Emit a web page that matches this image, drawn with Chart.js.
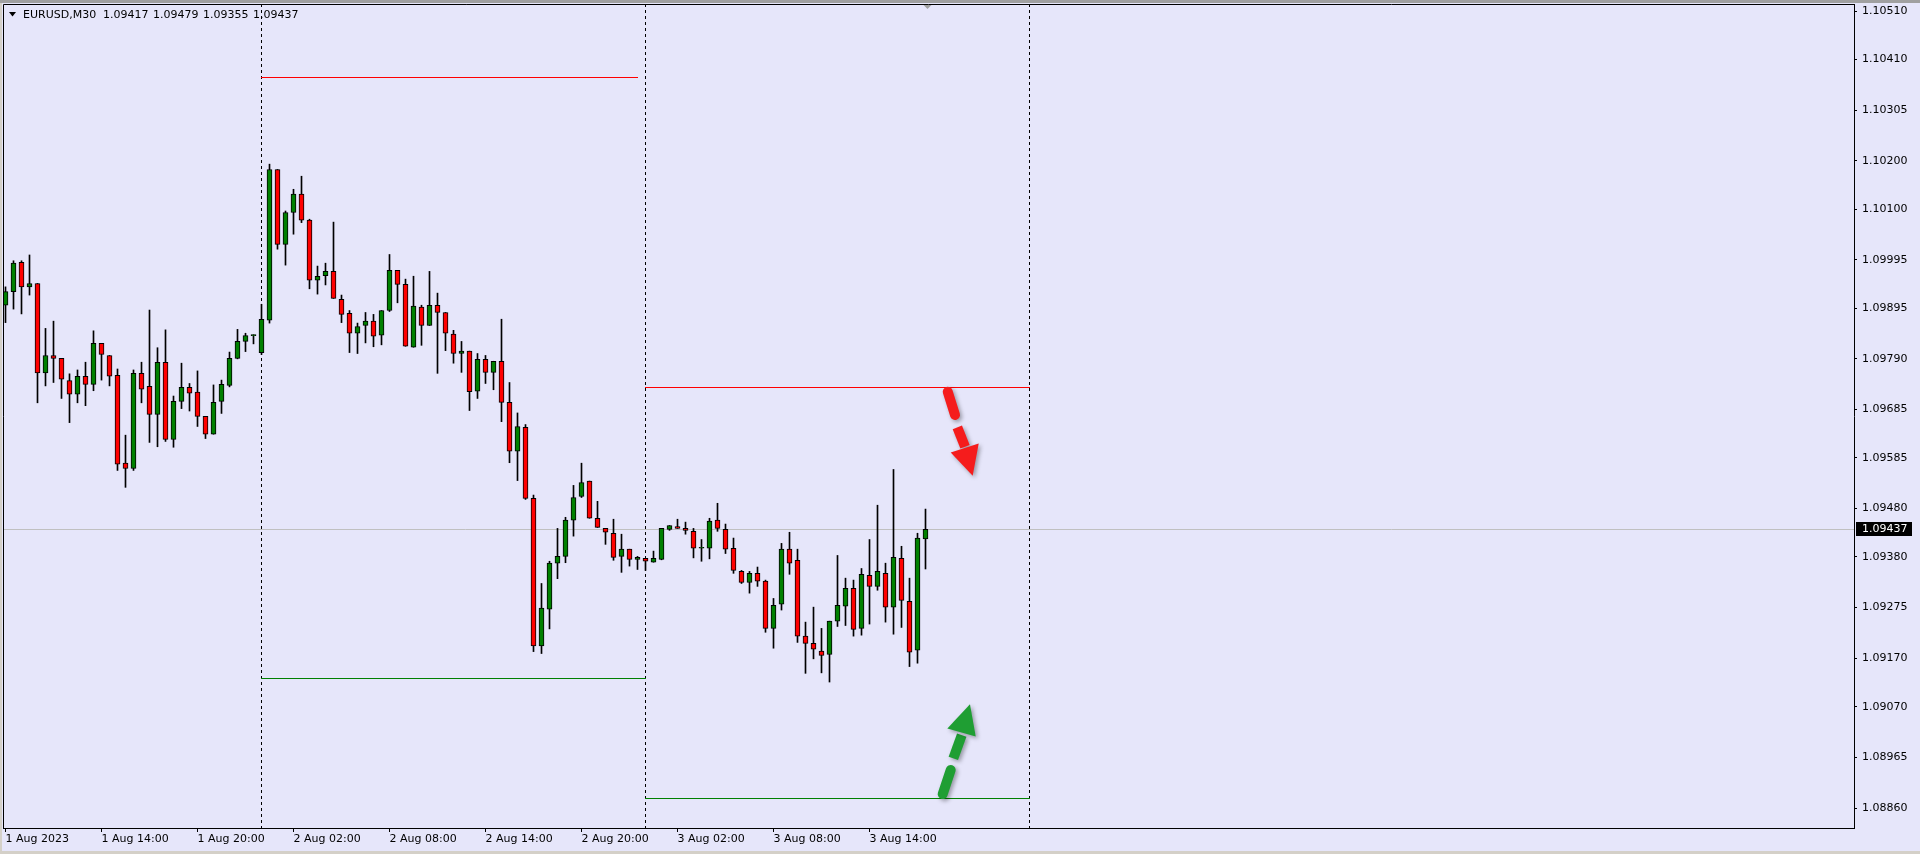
<!DOCTYPE html>
<html>
<head>
<meta charset="utf-8">
<title>EURUSD,M30</title>
<script src="https://cdn.jsdelivr.net/npm/chart.js@4.4.1/dist/chart.umd.min.js"></script>
<style>
  html, body { margin: 0; padding: 0; background: #e6e6fa; overflow: hidden; }
  canvas { display: block; }
</style>
</head>
<body>
<canvas id="chart" width="1920" height="854"></canvas>
<script>
// EURUSD M30, bar 0 = 1 Aug 2023 08:00
const symbol = 'EURUSD,M30';
const opens = [
  1.09901, 1.09929, 1.09990, 1.09939, 1.09946, 1.09761, 1.09797, 1.09791, 1.09745, 1.09717,
  1.09754, 1.09737, 1.09822, 1.09797, 1.09756, 1.09574, 1.09563, 1.09760, 1.09733, 1.09675,
  1.09783, 1.09623, 1.09702, 1.09731, 1.09721, 1.09671, 1.09634, 1.09702, 1.09735, 1.09791,
  1.09826, 1.09838, 1.09803, 1.09870, 1.10182, 1.10027, 1.10093, 1.10131, 1.10077, 1.09953,
  1.09962, 1.09971, 1.09913, 1.09884, 1.09843, 1.09859, 1.09868, 1.09839, 1.09890, 1.09973,
  1.09944, 1.09814, 1.09897, 1.09859, 1.09901, 1.09886, 1.09841, 1.09801, 1.09806, 1.09723,
  1.09789, 1.09762, 1.09785, 1.09700, 1.09599, 1.09648, 1.09501, 1.09196, 1.09272, 1.09367,
  1.09381, 1.09456, 1.09505, 1.09537, 1.09460, 1.09439, 1.09429, 1.09381, 1.09396, 1.09375,
  1.09377, 1.09369, 1.09375, 1.09437, 1.09443, 1.09439, 1.09433, 1.09398, 1.09398, 1.09456,
  1.09437, 1.09398, 1.09350, 1.09327, 1.09346, 1.09330, 1.09232, 1.09282, 1.09396, 1.09373,
  1.09216, 1.09201, 1.09185, 1.09178, 1.09247, 1.09278, 1.09315, 1.09232, 1.09342, 1.09319,
  1.09346, 1.09276, 1.09377, 1.09288, 1.09187, 1.09417
];
const highs = [
  1.09939, 1.09993, 1.09993, 1.10005, 1.09946, 1.09853, 1.09868, 1.09791, 1.09759, 1.09767,
  1.09783, 1.09848, 1.09822, 1.09797, 1.09769, 1.09632, 1.09767, 1.09783, 1.09891, 1.09813,
  1.09850, 1.09713, 1.09781, 1.09739, 1.09765, 1.09671, 1.09736, 1.09746, 1.09804, 1.09851,
  1.09843, 1.09840, 1.09903, 1.10193, 1.10182, 1.10096, 1.10141, 1.10168, 1.10079, 1.09982,
  1.09988, 1.10073, 1.09922, 1.09890, 1.09864, 1.09886, 1.09882, 1.09890, 1.10006, 1.09973,
  1.09955, 1.09961, 1.09901, 1.09971, 1.09926, 1.09886, 1.09849, 1.09826, 1.09806, 1.09801,
  1.09797, 1.09785, 1.09872, 1.09741, 1.09678, 1.09654, 1.09508, 1.09325, 1.09371, 1.09439,
  1.09462, 1.09528, 1.09574, 1.09537, 1.09495, 1.09439, 1.09458, 1.09427, 1.09396, 1.09381,
  1.09377, 1.09392, 1.09439, 1.09445, 1.09458, 1.09452, 1.09439, 1.09416, 1.09460, 1.09491,
  1.09448, 1.09419, 1.09352, 1.09350, 1.09359, 1.09332, 1.09294, 1.09408, 1.09431, 1.09396,
  1.09245, 1.09276, 1.09232, 1.09247, 1.09383, 1.09336, 1.09332, 1.09356, 1.09416, 1.09487,
  1.09367, 1.09561, 1.09402, 1.09336, 1.09429, 1.09479
];
const lows = [
  1.09865, 1.09893, 1.09883, 1.09922, 1.09699, 1.09734, 1.09741, 1.09708, 1.09658, 1.09699,
  1.09693, 1.09724, 1.09746, 1.09734, 1.09559, 1.09524, 1.09559, 1.09699, 1.09617, 1.09608,
  1.09619, 1.09607, 1.09687, 1.09682, 1.09650, 1.09625, 1.09634, 1.09677, 1.09732, 1.09790,
  1.09805, 1.09821, 1.09799, 1.09864, 1.10017, 1.09984, 1.10048, 1.10072, 1.09935, 1.09924,
  1.09943, 1.09915, 1.09865, 1.09803, 1.09801, 1.09823, 1.09815, 1.09819, 1.09888, 1.09906,
  1.09816, 1.09814, 1.09818, 1.09859, 1.09760, 1.09807, 1.09781, 1.09762, 1.09683, 1.09708,
  1.09739, 1.09726, 1.09660, 1.09575, 1.09538, 1.09499, 1.09184, 1.09180, 1.09231, 1.09335,
  1.09368, 1.09423, 1.09503, 1.09460, 1.09441, 1.09406, 1.09373, 1.09348, 1.09361, 1.09354,
  1.09352, 1.09369, 1.09374, 1.09435, 1.09439, 1.09427, 1.09378, 1.09371, 1.09376, 1.09433,
  1.09387, 1.09346, 1.09325, 1.09305, 1.09319, 1.09224, 1.09191, 1.09270, 1.09344, 1.09203,
  1.09139, 1.09169, 1.09140, 1.09121, 1.09236, 1.09238, 1.09216, 1.09218, 1.09241, 1.09311,
  1.09245, 1.09220, 1.09234, 1.09153, 1.09160, 1.09355
];
const closes = [
  1.09929, 1.09988, 1.09939, 1.09946, 1.09761, 1.09797, 1.09791, 1.09748, 1.09717, 1.09754,
  1.09737, 1.09822, 1.09799, 1.09754, 1.09572, 1.09563, 1.09760, 1.09727, 1.09675, 1.09783,
  1.09623, 1.09702, 1.09731, 1.09719, 1.09671, 1.09634, 1.09700, 1.09737, 1.09791, 1.09826,
  1.09838, 1.09840, 1.09872, 1.10182, 1.10027, 1.10093, 1.10131, 1.10077, 1.09953, 1.09961,
  1.09971, 1.09915, 1.09882, 1.09843, 1.09857, 1.09868, 1.09837, 1.09890, 1.09973, 1.09944,
  1.09816, 1.09899, 1.09859, 1.09901, 1.09886, 1.09843, 1.09801, 1.09806, 1.09722, 1.09789,
  1.09762, 1.09785, 1.09700, 1.09599, 1.09650, 1.09501, 1.09196, 1.09274, 1.09367, 1.09381,
  1.09456, 1.09503, 1.09534, 1.09460, 1.09441, 1.09431, 1.09379, 1.09396, 1.09375, 1.09379,
  1.09371, 1.09377, 1.09439, 1.09445, 1.09439, 1.09435, 1.09398, 1.09398, 1.09454, 1.09439,
  1.09396, 1.09352, 1.09327, 1.09346, 1.09330, 1.09232, 1.09280, 1.09396, 1.09367, 1.09216,
  1.09201, 1.09189, 1.09176, 1.09247, 1.09280, 1.09315, 1.09230, 1.09344, 1.09319, 1.09350,
  1.09276, 1.09379, 1.09290, 1.09183, 1.09419, 1.09437
];

// time axis: bar index of each label
const timeTickIdx = [0, 12, 24, 36, 48, 60, 72, 84, 96, 108];
const timeLabels = ['1 Aug 2023', '1 Aug 14:00', '1 Aug 20:00', '2 Aug 02:00', '2 Aug 08:00',
  '2 Aug 14:00', '2 Aug 20:00', '3 Aug 02:00', '3 Aug 08:00', '3 Aug 14:00'];
const priceTicks = [1.10510, 1.10410, 1.10305, 1.10200, 1.10100, 1.09995, 1.09895, 1.09790,
  1.09685, 1.09585, 1.09480, 1.09380, 1.09275, 1.09170, 1.09070, 1.08965, 1.08860];

// day separators (bar index of 00:00) and previous day high/low levels
const daySeparators = [32, 80, 128];
const levelPrices = [1.10373, 1.09129, 1.09731, 1.08880];
const levelFrom = [32, 32, 80, 80];
const levelTo = [79, 80, 128, 128];
const levelKind = ['high', 'low', 'high', 'low'];

// hand drawn arrows, in [bar index, price]
const arrowDown = {
  dash: [[117.78, 1.09722], [118.69, 1.09674]],
  shaft: [[118.98, 1.09648], [119.94, 1.09608]],
  head: [[118.15, 1.09596], [121.65, 1.09615], [120.90, 1.09548]]
};
const arrowUp = {
  dash: [[118.15, 1.08939], [117.15, 1.08889]],
  shaft: [[118.48, 1.08963], [119.53, 1.09011]],
  head: [[117.73, 1.09025], [121.28, 1.09008], [120.56, 1.09075]]
};

const BG = '#e6e6fa';
const FONT = 'DejaVu Sans';
Chart.defaults.font.family = FONT;
Chart.defaults.font.size = 11;
Chart.defaults.color = '#000';

const idx = opens.map((_, i) => i);
const lastClose = closes[closes.length - 1];

function crisp(v) { return Math.floor(v) + 0.5; }

function drawArrow(ctx, xs, ys, a, color) {
  const p = pt => [xs.getPixelForValue(pt[0]), ys.getPixelForValue(pt[1])];
  ctx.save();
  ctx.shadowColor = 'rgba(0,0,0,0.35)';
  ctx.shadowBlur = 4;
  ctx.shadowOffsetX = 2;
  ctx.shadowOffsetY = 2;
  ctx.strokeStyle = color;
  ctx.fillStyle = color;
  ctx.lineWidth = 10;
  ctx.lineCap = 'round';
  let [x1, y1] = p(a.dash[0]), [x2, y2] = p(a.dash[1]);
  ctx.beginPath(); ctx.moveTo(x1, y1); ctx.lineTo(x2, y2); ctx.stroke();
  ctx.lineCap = 'butt';
  [x1, y1] = p(a.shaft[0]); [x2, y2] = p(a.shaft[1]);
  ctx.beginPath(); ctx.moveTo(x1, y1); ctx.lineTo(x2, y2); ctx.stroke();
  ctx.beginPath();
  a.head.forEach((h, k) => { const [hx, hy] = p(h); k ? ctx.lineTo(hx, hy) : ctx.moveTo(hx, hy); });
  ctx.closePath(); ctx.fill();
  ctx.restore();
}

const terminal = {
  id: 'terminal',
  beforeDatasetsDraw(chart) {
    const { ctx, chartArea: ca, scales: { x, y } } = chart;
    ctx.save();
    // day separators
    ctx.strokeStyle = '#000';
    ctx.lineWidth = 1;
    ctx.setLineDash([3, 3]);
    daySeparators.forEach(d => {
      const px = crisp(x.getPixelForValue(d));
      ctx.beginPath(); ctx.moveTo(px, ca.top); ctx.lineTo(px, ca.bottom); ctx.stroke();
    });
    ctx.setLineDash([]);
    // bid line
    ctx.strokeStyle = '#c0c0c0';
    const py = crisp(y.getPixelForValue(lastClose));
    ctx.beginPath(); ctx.moveTo(ca.left, py); ctx.lineTo(ca.right, py); ctx.stroke();
    // previous day levels
    levelPrices.forEach((v, k) => {
      ctx.strokeStyle = levelKind[k] === 'high' ? '#ff0000' : '#008000';
      const ly = crisp(y.getPixelForValue(v));
      ctx.beginPath();
      ctx.moveTo(Math.floor(x.getPixelForValue(levelFrom[k])), ly);
      ctx.lineTo(Math.floor(x.getPixelForValue(levelTo[k])) + 1, ly);
      ctx.stroke();
    });
    ctx.restore();
  },
  afterDraw(chart) {
    const { ctx, chartArea: ca, scales: { x, y } } = chart;
    ctx.save();
    // window frame
    ctx.fillStyle = '#a0a0a0';
    ctx.fillRect(0, 0, chart.width, 3);
    ctx.fillStyle = '#d4d0c8';
    ctx.fillRect(0, 3, 2, chart.height - 3);
    ctx.fillRect(0, chart.height - 3, chart.width, 3);
    ctx.strokeStyle = '#000';
    ctx.lineWidth = 1;
    ctx.beginPath();
    ctx.moveTo(ca.left + 0.5, ca.bottom); ctx.lineTo(ca.left + 0.5, ca.top + 0.5); ctx.lineTo(ca.right, ca.top + 0.5);
    ctx.stroke();

    // header
    ctx.fillStyle = '#000';
    ctx.beginPath(); ctx.moveTo(9, 12); ctx.lineTo(16, 12); ctx.lineTo(12.5, 16.5); ctx.closePath(); ctx.fill();
    ctx.font = '11px ' + FONT;
    ctx.textBaseline = 'alphabetic';
    ctx.textAlign = 'left';
    ctx.fillText(symbol, 23, 18);
    const last = opens.length - 1;
    [opens[last], highs[last], lows[last], closes[last]].forEach((v, k) => {
      ctx.fillText(v.toFixed(5), 103 + k * 50, 18);
    });

    // chart shift marker
    const mx = x.getPixelForValue(last) + 2;
    ctx.fillStyle = '#a0a0a0';
    ctx.beginPath(); ctx.moveTo(mx - 4, ca.top + 1); ctx.lineTo(mx + 4, ca.top + 1); ctx.lineTo(mx, ca.top + 5); ctx.closePath(); ctx.fill();

    // bid label
    const py = y.getPixelForValue(lastClose);
    ctx.fillStyle = '#000';
    ctx.fillRect(ca.right + 2, Math.round(py) - 7, 56, 14);
    ctx.fillStyle = '#fff';
    ctx.textBaseline = 'middle';
    ctx.fillText(lastClose.toFixed(5), ca.right + 8, Math.round(py));

    drawArrow(ctx, x, y, arrowDown, '#f51c1c');
    drawArrow(ctx, x, y, arrowUp, '#1f9e33');
    ctx.restore();
  }
};

new Chart(document.getElementById('chart'), {
  type: 'bar',
  data: {
    datasets: [
      {
        label: 'body',
        data: idx.map(i => ({ x: i, y: [opens[i], closes[i]] })),
        backgroundColor: idx.map(i => closes[i] >= opens[i] ? '#008000' : '#ff0000'),
        borderColor: '#000',
        borderWidth: 1,
        borderSkipped: false,
        barThickness: 5,
        minBarLength: 1,
        grouped: false,
        order: 1
      },
      {
        label: 'wick',
        data: idx.map(i => ({ x: i, y: [lows[i], highs[i]] })),
        backgroundColor: '#000',
        borderWidth: 0,
        barThickness: 1,
        grouped: false,
        order: 2
      }
    ]
  },
  options: {
    responsive: false,
    animation: false,
    events: [],
    layout: { padding: { left: 3, top: 4, right: 0, bottom: 0 } },
    plugins: { legend: { display: false }, tooltip: { enabled: false } },
    scales: {
      x: {
        type: 'linear',
        min: -0.3125,
        max: 231.0625,
        offset: false,
        afterBuildTicks: s => { s.ticks = timeTickIdx.map(v => ({ value: v })); },
        afterFit: s => { s.height = 26; s.paddingLeft = 0; s.paddingRight = 0; },
        grid: { drawOnChartArea: false, tickLength: 4, color: '#000', offset: false },
        border: { color: '#000' },
        ticks: {
          autoSkip: false, maxRotation: 0, align: 'start', padding: 1,
          callback: (v, i) => timeLabels[i]
        }
      },
      y: {
        type: 'linear',
        position: 'right',
        min: 1.0881884,
        max: 1.1052452,
        afterBuildTicks: s => { s.ticks = priceTicks.map(v => ({ value: v })); },
        afterFit: s => { s.width = 66; s.paddingTop = 0; s.paddingBottom = 0; },
        grid: { drawOnChartArea: false, tickLength: 3, color: '#000' },
        border: { color: '#000' },
        ticks: { padding: 5, crossAlign: 'near', callback: v => v.toFixed(5) }
      }
    }
  },
  plugins: [terminal]
});
</script>
</body>
</html>
